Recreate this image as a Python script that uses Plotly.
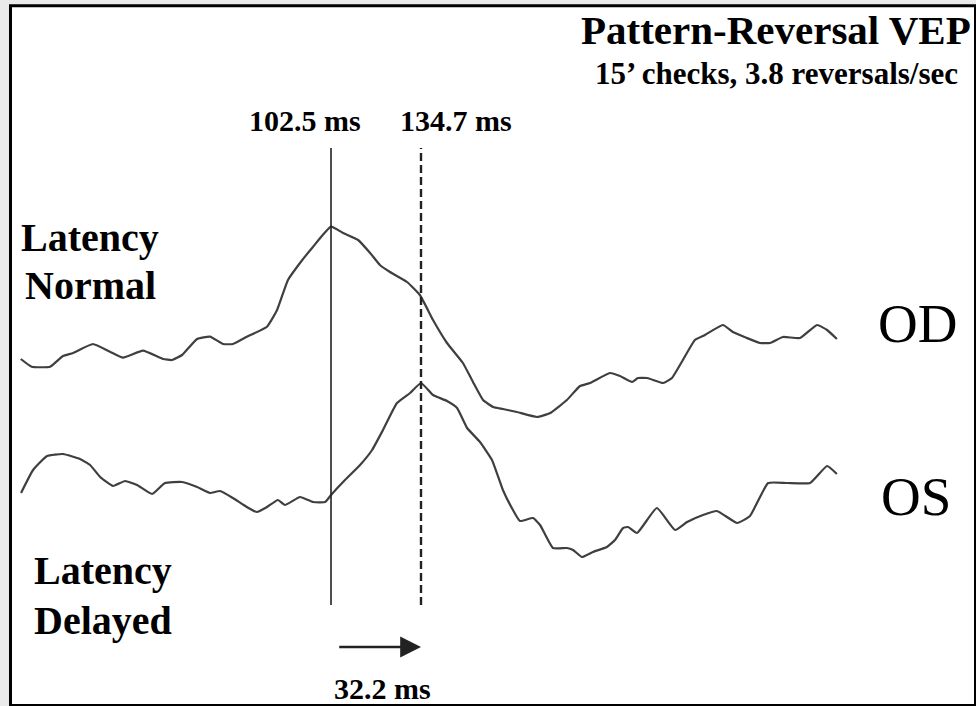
import plotly.graph_objects as go

# ---------------- data ----------------
# OD (right eye) trace: time in ms, amplitude in µV (relative units)
od_t = [-8.5, -4.6, 2.0, 6.6, 10.2, 17.3, 23.4, 28.1, 35.2, 42.4, 45.6, 49.2, 54.6, 59.2,
        63.9, 67.4, 72.4, 79.6, 83.2, 87.1, 91.4, 96.1, 102.5, 106.8, 112.2, 116.5, 120.0,
        123.6, 129.7, 134.3, 139.0, 144.0, 149.7, 153.3, 156.9, 160.5, 164.0, 169.0, 176.2,
        180.9, 186.9, 191.6, 195.2, 202.3, 205.9, 210.2, 212.3, 215.6, 221.3, 224.5, 228.4,
        232.7, 236.3, 242.7, 246.3, 251.3, 256.0, 259.6, 264.2, 270.3, 276.4, 280.0, 283.5]
od_v = [0.1, -0.67, -0.67, 0.4, 0.7, 1.6, 0.83, 0.23, 0.93, 0.1, 0.0, 0.5, 2.1, 2.33,
        1.6, 1.6, 2.33, 3.33, 5.0, 8.0, 9.7, 11.33, 13.33, 12.7, 12.0, 10.7, 9.5,
        8.8, 7.8, 6.5, 4.0, 1.7, -0.3, -2.2, -4.0, -4.7, -4.9, -5.2, -5.7,
        -5.3, -4.0, -2.6, -2.3, -1.3, -1.6, -2.2, -1.8, -1.8, -2.3, -1.8, 0.0,
        2.0, 2.5, 3.5, 2.8, 2.2, 1.7, 1.7, 2.3, 2.2, 3.5, 3.0, 2.1]

# OS (left eye) trace
os_t = [-8.4, -4.1, 0.9, 6.6, 12.7, 16.3, 19.9, 24.5, 28.8, 33.1, 38.5, 43.1, 49.2, 54.6,
        59.2, 62.8, 67.4, 72.4, 76.0, 79.6, 83.5, 86.0, 91.4, 96.1, 100.4, 102.5, 107.5,
        112.9, 117.2, 121.1, 126.1, 130.8, 134.7, 139.0, 144.0, 147.6, 151.2, 155.8, 160.1,
        164.0, 167.6, 170.1, 174.8, 177.3, 181.9, 186.9, 189.1, 192.3, 196.2, 201.2, 204.1,
        207.0, 208.8, 212.0, 219.1, 225.6, 229.9, 235.6, 240.6, 247.8, 252.4, 258.9, 265.7,
        273.9, 280.0, 283.5]
os_v = [0.0, 2.3, 3.7, 3.9, 3.4, 2.8, 1.6, 0.7, 1.2, 0.8, -0.1, 1.0, 1.1, 0.6,
        0.0, 0.2, -0.5, -1.4, -1.9, -1.4, -0.7, -1.2, -0.4, -0.9, -0.9, -0.2, 1.3,
        2.8, 4.3, 6.3, 9.0, 10.0, 11.0, 9.8, 9.2, 8.5, 6.5, 5.1, 3.3,
        0.3, -1.7, -2.8, -2.5, -3.2, -5.5, -5.5, -5.7, -6.4, -5.9, -5.4, -4.7,
        -3.5, -3.4, -4.0, -1.5, -3.7, -2.9, -2.2, -1.8, -3.0, -2.3, 1.0, 1.0,
        1.0, 2.7, 1.9]

od_offset = 0.0
os_offset = -13.3

latency_normal = 102.5   # ms, OD P100
latency_delayed = 134.7  # ms, OS P100

title_text = "Pattern-Reversal VEP"
subtitle_text = "15\u2019 checks, 3.8 reversals/sec"

# ---------------- figure ----------------
W, H = 976, 706
X_RANGE = [-15.93, 333.27]
Y_RANGE = [-34.6, 36.0]


def px(x):
    return x / W


def py(y):
    return 1 - y / H


TRACE_COLOR = "#3f3f3f"
SERIF = "Liberation Serif, Times New Roman, serif"

fig = go.Figure()
fig.add_trace(go.Scatter(x=od_t, y=[v + od_offset for v in od_v], mode="lines",
                         line=dict(color=TRACE_COLOR, width=2.2, shape="spline", smoothing=0.4),
                         name="OD", hoverinfo="skip"))
fig.add_trace(go.Scatter(x=os_t, y=[v + os_offset for v in os_v], mode="lines",
                         line=dict(color=TRACE_COLOR, width=2.2, shape="spline", smoothing=0.4),
                         name="OS", hoverinfo="skip"))

shapes = [
    # white panel with black frame
    dict(type="rect", xref="paper", yref="paper", x0=px(10.5), x1=px(975.5),
         y0=py(705.5), y1=py(5.8), fillcolor="white",
         line=dict(color="black", width=3), layer="below"),
    # latency markers
    dict(type="line", xref="x", yref="y", x0=latency_normal, x1=latency_normal,
         y0=-24.5, y1=21.2, line=dict(color="#222222", width=1.6)),
    dict(type="line", xref="x", yref="y", x0=latency_delayed, x1=latency_delayed,
         y0=-24.5, y1=21.2, line=dict(color="#222222", width=2.4, dash="8px,4px")),
]

bold = dict(family=SERIF, color="black")
annotations = [
    dict(xref="paper", yref="paper", x=px(776), y=py(30), text=f"<b>{title_text}</b>",
         font=dict(size=41, **bold), showarrow=False, xanchor="center", yanchor="middle"),
    dict(xref="paper", yref="paper", x=px(776), y=py(73.5), text=f"<b>{subtitle_text}</b>",
         font=dict(size=31, **bold), showarrow=False, xanchor="center", yanchor="middle"),
    dict(xref="x", yref="y", x=latency_normal, y=24.0, xshift=-26,
         text=f"<b>{latency_normal} ms</b>", font=dict(size=30, **bold),
         showarrow=False, xanchor="center", yanchor="middle"),
    dict(xref="x", yref="y", x=latency_delayed, y=24.0, xshift=35,
         text=f"<b>{latency_delayed} ms</b>", font=dict(size=30, **bold),
         showarrow=False, xanchor="center", yanchor="middle"),
    dict(xref="paper", yref="paper", x=px(90), y=py(237.5), text="<b>Latency</b>",
         font=dict(size=40, **bold), showarrow=False, xanchor="center", yanchor="middle"),
    dict(xref="paper", yref="paper", x=px(90), y=py(286), text="<b>Normal</b>",
         font=dict(size=40, **bold), showarrow=False, xanchor="center", yanchor="middle"),
    dict(xref="paper", yref="paper", x=px(103), y=py(570.5), text="<b>Latency</b>",
         font=dict(size=40, **bold), showarrow=False, xanchor="center", yanchor="middle"),
    dict(xref="paper", yref="paper", x=px(103), y=py(620.5), text="<b>Delayed</b>",
         font=dict(size=40, **bold), showarrow=False, xanchor="center", yanchor="middle"),
    dict(xref="paper", yref="paper", x=px(917), y=py(323.5), text="OD",
         font=dict(size=55, family=SERIF, color="black"), showarrow=False,
         xanchor="center", yanchor="middle"),
    dict(xref="paper", yref="paper", x=px(916), y=py(496), text="OS",
         font=dict(size=55, family=SERIF, color="black"), showarrow=False,
         xanchor="center", yanchor="middle"),
    # arrow showing the delay
    dict(xref="x", yref="y", axref="x", ayref="y", x=latency_delayed, y=-28.7,
         ax=latency_normal + 2.4, ay=-28.7, text="", showarrow=True,
         arrowhead=2, arrowsize=1.6, arrowwidth=2.6, arrowcolor="#222222"),
    dict(xref="x", yref="y", x=(latency_normal + latency_delayed) / 2, y=-32.8, xshift=6,
         text=f"<b>{latency_delayed - latency_normal:.1f} ms</b>",
         font=dict(size=30, **bold), showarrow=False, xanchor="center", yanchor="middle"),
]

fig.update_layout(
    width=W, height=H,
    margin=dict(l=0, r=0, t=0, b=0),
    paper_bgcolor="#eaeaea",
    plot_bgcolor="rgba(0,0,0,0)",
    showlegend=False,
    shapes=shapes,
    annotations=annotations,
    xaxis=dict(range=X_RANGE, visible=False, fixedrange=True),
    yaxis=dict(range=Y_RANGE, visible=False, fixedrange=True),
)

fig.write_html("out.html", config={"displayModeBar": False},
               post_script="document.body.style.margin='0';"
                           "document.body.style.overflow='hidden';")
